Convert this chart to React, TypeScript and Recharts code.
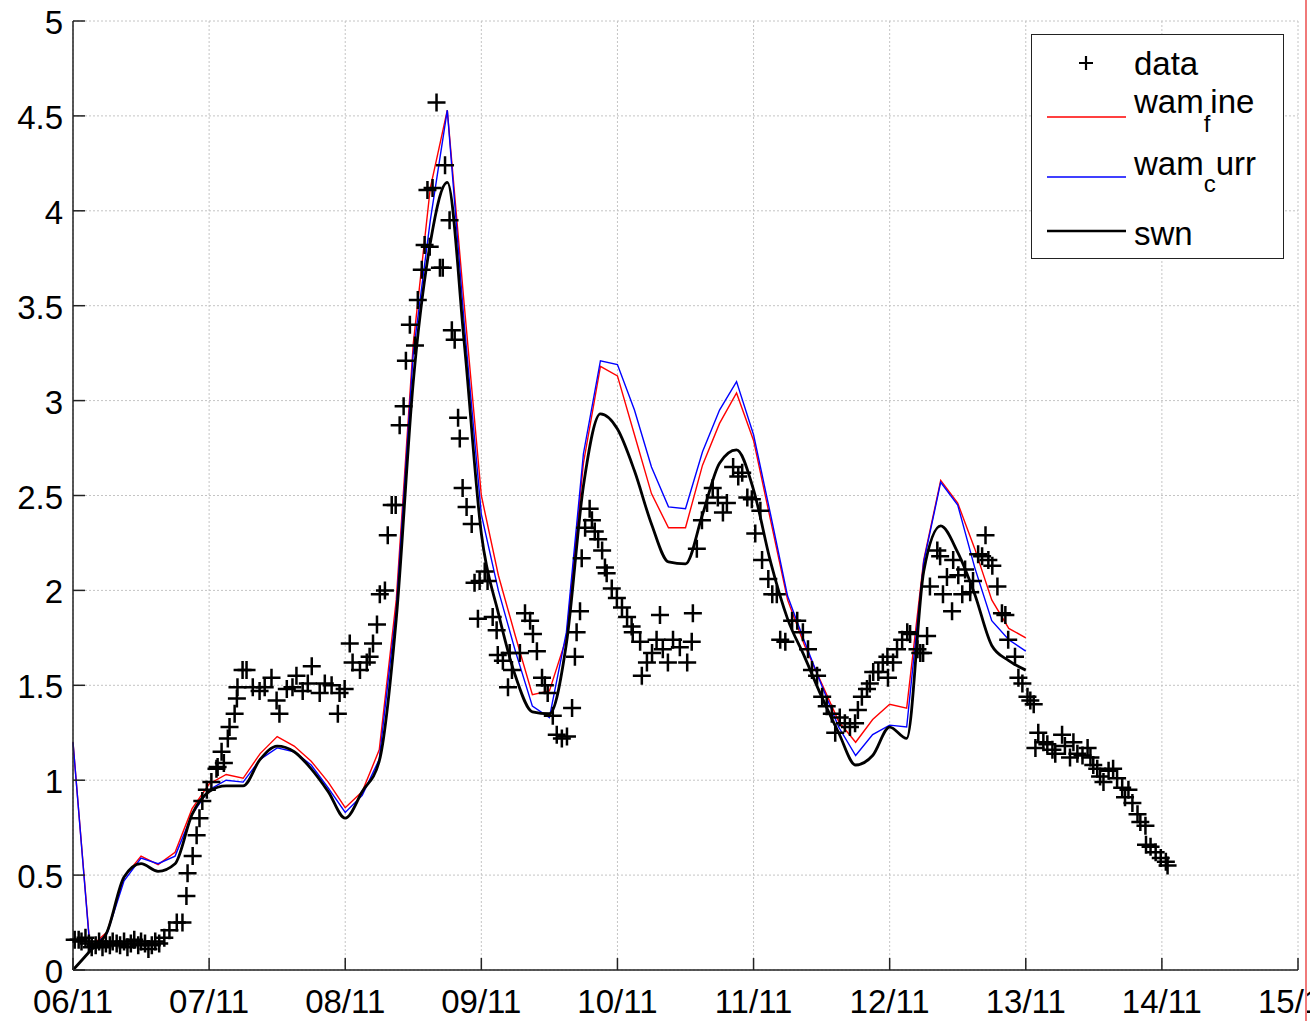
import { ComposedChart, Line, Scatter, XAxis, YAxis, CartesianGrid } from 'recharts';

// x runs in hours from 06/11 00:00, one label per day
const dayLabels = ['06/11', '07/11', '08/11', '09/11', '10/11', '11/11', '12/11', '13/11', '14/11', '15/11'];
const hourTicks = dayLabels.map((_, i) => i * 24);
const hsTicks = [0, 0.5, 1, 1.5, 2, 2.5, 3, 3.5, 4, 4.5, 5];

// model output every 3 hours, 06/11 00:00 -> 13/11 00:00
const modelStep = 3;
const wamFine = [
  1.2, 0.12, 0.2, 0.49, 0.6, 0.555, 0.62, 0.85, 0.98, 1.03,
  1.01, 1.14, 1.23, 1.18, 1.1, 0.99, 0.855, 0.94, 1.16, 1.95,
  3.3, 4.12, 4.53, 3.5, 2.5, 2.08, 1.76, 1.45, 1.47, 1.75,
  2.67, 3.18, 3.13, 2.82, 2.51, 2.33, 2.33, 2.66, 2.88, 3.04,
  2.79, 2.37, 1.95, 1.71, 1.51, 1.31, 1.2, 1.32, 1.4, 1.38,
  2.16, 2.58, 2.46, 2.22, 1.95, 1.8, 1.75,
];
const wamCurr = [
  1.2, 0.11, 0.19, 0.47, 0.59, 0.56, 0.6, 0.82, 0.95, 1.0,
  0.99, 1.11, 1.17, 1.15, 1.08, 0.96, 0.83, 0.92, 1.11, 1.9,
  3.25, 3.95, 4.53, 3.4, 2.4, 2.0, 1.68, 1.39, 1.33, 1.78,
  2.72, 3.21, 3.19, 2.95, 2.65, 2.44, 2.43, 2.73, 2.95, 3.1,
  2.82, 2.4, 1.97, 1.73, 1.5, 1.28, 1.13, 1.24, 1.29, 1.28,
  2.15, 2.57, 2.45, 2.12, 1.84, 1.74, 1.68,
];
const swn = [
  0, 0.1, 0.2, 0.49, 0.56, 0.52, 0.56, 0.82, 0.94, 0.97,
  0.97, 1.11, 1.18, 1.15, 1.06, 0.94, 0.8, 0.94, 1.1, 1.85,
  3.1, 3.83, 4.15, 3.3, 2.3, 1.88, 1.55, 1.36, 1.35, 1.72,
  2.55, 2.93, 2.85, 2.63, 2.35, 2.15, 2.14, 2.4, 2.67, 2.74,
  2.53, 2.15, 1.85, 1.65, 1.44, 1.25, 1.08, 1.13, 1.28, 1.22,
  2.1, 2.34, 2.2, 1.98, 1.71, 1.63, 1.58,
];

// buoy observations (hour, Hs)
const obsHour = [
  0.3, 1.0, 1.5, 2.2, 2.8, 3.3, 4.0, 4.6, 5.2, 5.8,
  6.5, 7.0, 7.7, 8.3, 9.0, 9.6, 10.2, 10.8, 11.5, 12.0,
  12.7, 13.3, 13.9, 14.5, 15.2, 16.1, 17.0, 18.3, 19.3, 20.0,
  20.2, 21.1, 21.8, 22.3, 22.8, 23.6, 24.4, 25.3, 25.5, 26.2,
  26.6, 27.3, 27.6, 28.5, 28.9, 29.0, 29.9, 30.6, 31.7, 32.9,
  33.8, 35.0, 35.9, 36.4, 37.7, 38.7, 39.4, 40.5, 41.4, 42.1,
  43.5, 44.4, 45.6, 46.7, 47.0, 47.9, 48.8, 49.3, 50.6, 51.8,
  52.3, 52.9, 53.6, 54.1, 55.0, 55.5, 56.2, 56.9, 57.6, 58.3,
  58.7, 59.4, 60.3, 60.8, 61.5, 62.0, 62.5, 62.9, 63.4, 64.1,
  64.7, 65.2, 65.6, 66.4, 66.8, 67.3, 67.9, 68.2, 68.7, 69.4,
  70.3, 70.8, 71.4, 71.7, 72.6, 73.1, 74.0, 74.7, 74.9, 75.8,
  76.7, 77.0, 77.4, 78.8, 79.7, 80.6, 81.1, 81.8, 82.7, 83.2,
  83.7, 84.6, 85.3, 86.2, 87.1, 88.0, 88.5, 88.8, 89.4, 89.7,
  90.3, 91.1, 91.5, 92.0, 92.6, 93.3, 93.8, 94.1, 95.0, 95.9,
  96.8, 97.7, 98.5, 98.7, 100.0, 100.3, 101.2, 102.1, 102.9, 103.5,
  104.0, 104.9, 105.8, 107.0, 108.3, 109.1, 109.3, 110.0, 110.9, 111.8,
  112.8, 113.7, 114.6, 115.3, 116.4, 117.3, 118.0, 118.9, 119.7, 120.3,
  121.2, 121.5, 122.6, 123.3, 124.1, 124.7, 125.6, 126.8, 127.7, 128.7,
  129.6, 130.3, 131.2, 132.1, 132.9, 133.8, 134.4, 135.2, 136.1, 137.0,
  137.9, 138.4, 139.1, 140.0, 140.5, 141.1, 142.0, 142.8, 143.6, 143.7,
  144.6, 145.3, 146.2, 147.1, 147.6, 148.9, 149.4, 149.9, 150.6, 151.1,
  152.4, 152.9, 153.4, 154.1, 155.0, 155.2, 156.1, 156.8, 157.3, 158.2,
  158.7, 159.6, 160.3, 160.9, 161.4, 162.1, 163.0, 163.8, 164.4, 164.9,
  166.1, 166.7, 167.4, 168.3, 168.8, 169.4, 169.7, 170.2, 171.1, 171.8,
  172.7, 173.2, 174.4, 174.9, 175.8, 176.4, 177.1, 178.0, 178.9, 179.4,
  179.9, 180.6, 181.1, 181.7, 182.6, 183.4, 184.1, 185.0, 185.5, 186.1,
  186.8, 187.7, 188.2, 189.1, 189.2, 190.0, 190.9, 191.8, 192.7, 193.0,
];
const obsHs = [
  0.16, 0.16, 0.15, 0.17, 0.14, 0.12, 0.13, 0.15, 0.12, 0.14,
  0.13, 0.15, 0.14, 0.13, 0.15, 0.12, 0.14, 0.16, 0.13, 0.15,
  0.14, 0.11, 0.13, 0.15, 0.14, 0.17, 0.21, 0.25, 0.25, 0.39,
  0.51, 0.6, 0.71, 0.8, 0.89, 0.95, 0.99, 1.06, 1.07, 1.15,
  1.09, 1.22, 1.28, 1.35, 1.43, 1.49, 1.58, 1.58, 1.49, 1.47,
  1.49, 1.54, 1.42, 1.35, 1.48, 1.49, 1.55, 1.47, 1.51, 1.6,
  1.46, 1.51, 1.5, 1.35, 1.46, 1.48, 1.72, 1.62, 1.58, 1.62,
  1.65, 1.72, 1.82, 1.98, 2.0, 2.29, 2.45, 2.45, 2.87, 2.97,
  3.21, 3.4, 3.29, 3.53, 3.69, 3.82, 4.11, 3.81, 4.12, 4.57,
  3.7, 3.7, 4.24, 3.95, 3.37, 3.32, 2.91, 2.8, 2.54, 2.44,
  2.35, 2.04, 1.85, 2.05, 2.1, 2.05, 1.86, 1.79, 1.66, 1.63,
  1.49, 1.67, 1.58, 1.67, 1.88, 1.84, 1.77, 1.68, 1.54, 1.5,
  1.46, 1.34, 1.24, 1.22, 1.23, 1.38, 1.65, 1.78, 1.89, 2.17,
  2.33, 2.43, 2.37, 2.31, 2.27, 2.21, 2.12, 2.09, 2.01, 1.96,
  1.91, 1.86, 1.81, 1.78, 1.73, 1.55, 1.62, 1.67, 1.74, 1.87,
  1.69, 1.62, 1.74, 1.7, 1.62, 1.73, 1.88, 2.22, 2.37, 2.46,
  2.54, 2.49, 2.41, 2.46, 2.65, 2.6, 2.62, 2.49, 2.48, 2.3,
  2.42, 2.16, 2.06, 1.98, 1.98, 1.74, 1.73, 1.84, 1.84, 1.78,
  1.69, 1.58, 1.55, 1.44, 1.39, 1.35, 1.25, 1.33, 1.3, 1.28,
  1.3, 1.37, 1.44, 1.48, 1.51, 1.57, 1.57, 1.62, 1.65, 1.54,
  1.62, 1.69, 1.74, 1.78, 1.77, 1.69, 1.67, 1.67, 1.76, 2.02,
  2.21, 2.18, 1.98, 2.07, 1.89, 2.16, 2.08, 1.98, 2.11, 1.99,
  2.05, 2.19, 2.18, 2.29, 2.16, 2.13, 2.02, 1.88, 1.87, 1.74,
  1.65, 1.54, 1.51, 1.44, 1.42, 1.4, 1.17, 1.25, 1.2, 1.19,
  1.16, 1.14, 1.24, 1.18, 1.12, 1.2, 1.14, 1.13, 1.17, 1.12,
  1.08, 1.06, 1.02, 0.99, 1.05, 1.06, 1.01, 0.96, 0.91, 0.95,
  0.88, 0.82, 0.78, 0.76, 0.66, 0.65, 0.62, 0.59, 0.57, 0.55,
];

const toSeries = (vals: number[]) => vals.map((hs, i) => ({ t: i * modelStep, hs }));
const obsData = obsHour
  .slice(0, Math.min(obsHour.length, obsHs.length))
  .map((t, i) => ({ t, hs: obsHs[i] }));

const FONT = '"Liberation Sans", Arial, Helvetica, sans-serif';
const AXIS = '#222';
const TICK = 12;

function Plus({ cx, cy, r = 9, w = 2.5 }: { cx: number; cy: number; r?: number; w?: number }) {
  return (
    <path
      d={`M${cx - r},${cy}H${cx + r}M${cx},${cy - r}V${cy + r}`}
      stroke="#000"
      strokeWidth={w}
      fill="none"
    />
  );
}

function BottomTick({ x, y, payload }: any) {
  return (
    <g>
      <line x1={x} x2={x} y1={y} y2={y - TICK} stroke={AXIS} strokeWidth={1.5} />
      <text x={x} y={y + 43} textAnchor="middle" fontSize={33} fontFamily={FONT} fill="#000">
        {dayLabels[Math.round(payload.value / 24)]}
      </text>
    </g>
  );
}

function TopTick({ x, y }: any) {
  return <line x1={x} x2={x} y1={y} y2={y + TICK} stroke={AXIS} strokeWidth={1.5} />;
}

function LeftTick({ x, y, payload }: any) {
  return (
    <g>
      <line x1={x} x2={x + TICK} y1={y} y2={y} stroke={AXIS} strokeWidth={1.5} />
      <text x={x - 10} y={y + 13} textAnchor="end" fontSize={33} fontFamily={FONT} fill="#000">
        {String(payload.value)}
      </text>
    </g>
  );
}

function RightTick({ x, y }: any) {
  return <line x1={x} x2={x - TICK} y1={y} y2={y} stroke={AXIS} strokeWidth={1.5} />;
}

function LegendBox() {
  const txt = { fontSize: 33, fontFamily: FONT, fill: '#000' };
  return (
    <div
      style={{
        position: 'absolute',
        left: 1031,
        top: 34,
        width: 253,
        height: 225,
        boxSizing: 'border-box',
        border: `1.5px solid ${AXIS}`,
        background: '#fff',
      }}
    >
      <svg width={250} height={222} style={{ display: 'block' }}>
        <Plus cx={54} cy={28} r={7} w={2.2} />
        <text x={102} y={40} {...txt}>data</text>

        <line x1={15} x2={94} y1={82} y2={82} stroke="red" strokeWidth={1.3} />
        <text x={102} y={78} {...txt}>
          wam<tspan dy={19} fontSize={24}>f</tspan>
          <tspan dy={-19}>ine</tspan>
        </text>

        <line x1={15} x2={94} y1={142} y2={142} stroke="blue" strokeWidth={1.3} />
        <text x={102} y={140} {...txt}>
          wam<tspan dy={17} fontSize={24}>c</tspan>
          <tspan dy={-17}>urr</tspan>
        </text>

        <line x1={15} x2={94} y1={196} y2={196} stroke="#000" strokeWidth={2.6} />
        <text x={102} y={210} {...txt}>swn</text>
      </svg>
    </div>
  );
}

export default function App() {
  return (
    <div style={{ position: 'absolute', left: 0, top: 0, width: 1310, height: 1021, background: '#fff', overflow: 'hidden' }}>
      <ComposedChart width={1310} height={1021} margin={{ top: 21, right: 12, left: 0, bottom: 0 }}>
        <CartesianGrid stroke="#c4c4c4" strokeDasharray="2 2" strokeWidth={1} />
        <XAxis
          dataKey="t"
          type="number"
          domain={[0, 216]}
          ticks={hourTicks}
          interval={0}
          height={51}
          tickSize={0}
          tickMargin={0}
          tickLine={false}
          axisLine={{ stroke: AXIS, strokeWidth: 1.5 }}
          tick={<BottomTick />}
        />
        <XAxis
          xAxisId="top"
          orientation="top"
          dataKey="t"
          type="number"
          domain={[0, 216]}
          ticks={hourTicks}
          interval={0}
          height={0}
          tickSize={0}
          tickMargin={0}
          tickLine={false}
          axisLine={{ stroke: AXIS, strokeWidth: 1.5 }}
          tick={<TopTick />}
        />
        <YAxis
          type="number"
          domain={[0, 5]}
          ticks={hsTicks}
          interval={0}
          width={73}
          tickSize={0}
          tickMargin={0}
          tickLine={false}
          axisLine={{ stroke: AXIS, strokeWidth: 1.5 }}
          tick={<LeftTick />}
        />
        <YAxis
          yAxisId="right"
          orientation="right"
          type="number"
          domain={[0, 5]}
          ticks={hsTicks}
          interval={0}
          width={0}
          tickSize={0}
          tickMargin={0}
          tickLine={false}
          axisLine={{ stroke: AXIS, strokeWidth: 1.5 }}
          tick={<RightTick />}
        />
        <Scatter
          name="data"
          data={obsData}
          dataKey="hs"
          isAnimationActive={false}
          shape={(p: any) => <Plus cx={p.cx} cy={p.cy} />}
        />
        <Line
          name="wam_fine"
          data={toSeries(wamFine)}
          dataKey="hs"
          type="linear"
          stroke="red"
          strokeWidth={1.4}
          dot={false}
          activeDot={false}
          isAnimationActive={false}
        />
        <Line
          name="wam_curr"
          data={toSeries(wamCurr)}
          dataKey="hs"
          type="linear"
          stroke="blue"
          strokeWidth={1.4}
          dot={false}
          activeDot={false}
          isAnimationActive={false}
        />
        <Line
          name="swn"
          data={toSeries(swn)}
          dataKey="hs"
          type="monotone"
          stroke="#000"
          strokeWidth={2.8}
          dot={false}
          activeDot={false}
          isAnimationActive={false}
        />
      </ComposedChart>
      <LegendBox />
      <div style={{ position: 'absolute', left: 1305, top: 0, width: 1.5, height: 1021, background: '#f07a7a' }} />
    </div>
  );
}
